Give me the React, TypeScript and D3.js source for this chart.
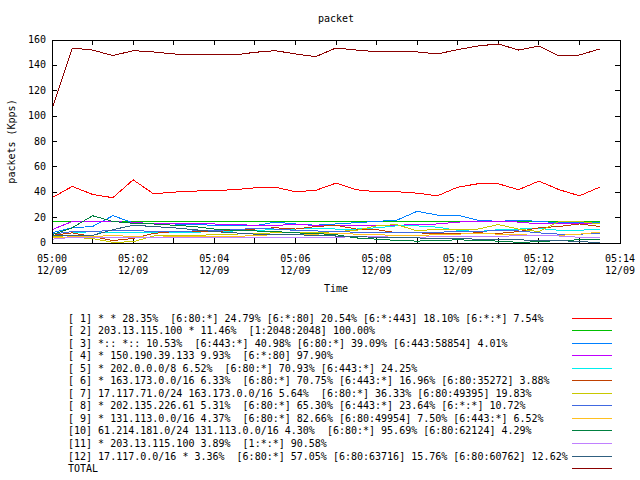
import React from "react";
import * as d3 from "d3";

const times = [
  "05:00:00", "05:00:30", "05:01:00", "05:01:30", "05:02:00", "05:02:30", "05:03:00",
  "05:03:30", "05:04:00", "05:04:30", "05:05:00", "05:05:30", "05:06:00", "05:06:30",
  "05:07:00", "05:07:30", "05:08:00", "05:08:30", "05:09:00", "05:09:30", "05:10:00",
  "05:10:30", "05:11:00", "05:11:30", "05:12:00", "05:12:30", "05:13:00", "05:13:30",
];

const s1 = [35.7, 44.6, 38.3, 35.7, 49.8, 38.8, 40.1, 40.9, 41.4, 42, 43.5, 44, 40.4, 41.5, 47.2, 42, 40.4, 40.4, 39.3, 37.2, 44, 46.7, 46.7, 42, 48.8, 42, 37.2, 44];
const s2 = [17, 17, 17, 17, 17, 17, 17, 17, 17, 17, 17, 17, 17, 17, 17, 17, 17, 17, 17, 17, 17, 17, 17, 17, 17, 17, 17, 17];
const s3 = [8, 12, 13, 21.5, 16, 15, 15, 14.5, 14, 14, 13.5, 16.5, 15, 14, 15, 16, 17, 18, 25, 22, 22, 18, 17, 18, 17, 16, 16, 16];
const s4 = [10.5, 17, 17, 17, 16, 15.5, 15, 15, 15, 14.5, 14, 14, 14.5, 14, 14, 13.5, 13.5, 14, 14.5, 15, 16.5, 17, 17, 16.5, 15, 15, 15, 15];
const s5 = [6, 8, 9, 8, 8.5, 8, 8, 8.5, 9, 9.5, 10, 10.5, 11, 11.5, 11, 11, 12, 13.5, 13.5, 12.5, 10, 9, 10.5, 11, 11.5, 10, 10, 11];
const s6 = [6, 8, 5, 2, 3.5, 7.5, 9, 9, 9, 10, 11, 12, 11, 13, 14, 11, 10.5, 8, 8, 7.5, 7.5, 8, 7.5, 9, 12, 13, 15, 13];
const s7 = [5, 4.5, 3.5, 0.5, 1, 5.5, 6, 6, 6.5, 7, 7.5, 8, 8, 8, 9, 10, 13.5, 14.5, 9.5, 11, 10.5, 11, 14.5, 11, 9, 17, 17, 15];
const s8 = [7, 9, 9, 10, 10, 9, 9, 9.5, 10, 10.5, 11.5, 11, 10, 9.5, 9, 8.5, 8, 8, 8, 8.5, 9, 9, 10, 9.5, 8, 7, 7, 7.5];
const s9 = [4, 5, 5, 6, 5, 4.5, 5, 5.5, 5, 5, 6, 6.5, 6.5, 7, 7.5, 7, 6.5, 6, 6, 6.5, 7, 7.5, 7, 6.5, 6, 6, 7, 8.5];
const s10 = [6.5, 12, 21.5, 17, 15.5, 15, 14, 13, 11, 10, 9.5, 9, 8, 7.5, 6.5, 4, 3, 2, 1.5, 2, 2.5, 2, 1.5, 0.5, 1, 2, 2.5, 3];
const s11 = [3, 4.5, 4.5, 4.5, 4.5, 4.5, 4.5, 4.5, 4.5, 4.5, 4.5, 4.5, 4.5, 4.5, 4.5, 5, 5, 4.5, 4.5, 5, 5, 5, 5, 6, 6, 5.5, 4.5, 4.5];
const s12 = [5.5, 6, 6, 10.5, 14, 13, 12, 10.5, 9, 8, 7, 6.5, 6.5, 6, 5.5, 5, 4.5, 4, 4, 3.5, 3.5, 3, 3, 2.5, 2, 2, 1, 0.5];
const total = [105.7, 153.7, 152.1, 147.7, 151.6, 150.6, 149, 148.2, 148.2, 148.2, 150.3, 151.6, 149, 146.9, 153.7, 152.1, 150.8, 150.6, 150.6, 149, 152.4, 155.3, 156.9, 152.1, 155.3, 147.4, 148.2, 152.9];

const seriesValues = [s1, s2, s3, s4, s5, s6, s7, s8, s9, s10, s11, s12, total];

const legendLabels = [
  "[ 1] * * 28.35%  [6:80:*] 24.79% [6:*:80] 20.54% [6:*:443] 18.10% [6:*:*] 7.54%",
  "[ 2] 203.13.115.100 * 11.46%  [1:2048:2048] 100.00%",
  "[ 3] *:: *:: 10.53%  [6:443:*] 40.98% [6:80:*] 39.09% [6:443:58854] 4.01%",
  "[ 4] * 150.190.39.133 9.93%  [6:*:80] 97.90%",
  "[ 5] * 202.0.0.0/8 6.52%  [6:80:*] 70.93% [6:443:*] 24.25%",
  "[ 6] * 163.173.0.0/16 6.33%  [6:80:*] 70.75% [6:443:*] 16.96% [6:80:35272] 3.88%",
  "[ 7] 17.117.71.0/24 163.173.0.0/16 5.64%  [6:80:*] 36.33% [6:80:49395] 19.83%",
  "[ 8] * 202.135.226.61 5.31%  [6:80:*] 65.30% [6:443:*] 23.64% [6:*:*] 10.72%",
  "[ 9] * 131.113.0.0/16 4.37%  [6:80:*] 82.66% [6:80:49954] 7.50% [6:443:*] 6.52%",
  "[10] 61.214.181.0/24 131.113.0.0/16 4.30%  [6:80:*] 95.69% [6:80:62124] 4.29%",
  "[11] * 203.13.115.100 3.89%  [1:*:*] 90.58%",
  "[12] 17.117.0.0/16 * 3.36%  [6:80:*] 57.05% [6:80:63716] 15.76% [6:80:60762] 12.62%",
  "TOTAL",
];

const colors = [
  "#ff0000", "#00c000", "#0080ff", "#c000ff", "#00eeee", "#c04000",
  "#c8c800", "#4169e1", "#ffc020", "#008040", "#c080ff", "#306080", "#8b0000",
];

const yTicks = [0, 20, 40, 60, 80, 100, 120, 140, 160];
const xDomain = ["05:00:00", "05:14:00"];
const titleText = "packet";
const xLabel = "Time";
const yLabel = "packets (Kpps)";

const FONT = "'DejaVu Sans Mono', 'Liberation Mono', monospace";

const parse = (t: string) => d3.timeParse("%Y-%m-%d %H:%M:%S")("2009-12-09 " + t) as Date;

export default function App() {
  const W = 640, H = 480;
  const L = 52, R = 620, T = 40, B = 243;
  const x = d3.scaleTime().domain(xDomain.map(parse)).range([L, R]);
  const y = d3.scaleLinear().domain([0, 160]).range([B, T]);
  const dates = times.map(parse);
  const line = d3.line<number>().x((_, i) => x(dates[i])).y((v) => y(v));
  const minorTicks = x.ticks(d3.timeMinute.every(1) as any);
  const majorTicks = x.ticks(d3.timeMinute.every(2) as any);
  const fmt1 = d3.timeFormat("%H:%M");
  const fmt2 = d3.timeFormat("%m/%d");
  const tl = 5;
  const legY0 = 317.5, legDY = 12.55;
  const legY = (k: number) => Math.round(legY0 + k * legDY) + 0.5;

  return (
    <svg width={W} height={H} style={{ position: "absolute", left: 0, top: 0, background: "#fff" }}
      fontFamily={FONT} fontSize={10}>
      <rect x={0} y={0} width={W} height={H} fill="#fff" />
      <text x={336} y={19} textAnchor="middle" dominantBaseline="middle">{titleText}</text>
      <g stroke="#000" strokeWidth={1} shapeRendering="crispEdges">
        {yTicks.map((t) => (
          <g key={"y" + t}>
            <line x1={L} x2={L + tl} y1={y(t)} y2={y(t)} />
            <line x1={R} x2={R - tl} y1={y(t)} y2={y(t)} />
          </g>
        ))}
        {minorTicks.map((d, i) => (
          <g key={"x" + i}>
            <line x1={x(d)} x2={x(d)} y1={B} y2={B - tl} />
            <line x1={x(d)} x2={x(d)} y1={T} y2={T + tl} />
          </g>
        ))}
      </g>
      {yTicks.map((t) => (
        <text key={"yl" + t} x={46} y={y(t)} textAnchor="end" dominantBaseline="middle">{t}</text>
      ))}
      {majorTicks.map((d, i) => (
        <g key={"xl" + i}>
          <text x={x(d)} y={259} textAnchor="middle" dominantBaseline="middle">{fmt1(d)}</text>
          <text x={x(d)} y={271} textAnchor="middle" dominantBaseline="middle">{fmt2(d)}</text>
        </g>
      ))}
      <text x={336} y={289} textAnchor="middle" dominantBaseline="middle">{xLabel}</text>
      <text transform={`translate(12,${(T + B) / 2}) rotate(-90)`} textAnchor="middle" dominantBaseline="middle">{yLabel}</text>
      <g fill="none" strokeWidth={1} shapeRendering="crispEdges">
        {seriesValues.map((vals, k) => (
          <path key={"s" + k} d={line(vals) || ""} stroke={colors[k]} />
        ))}
      </g>
      <rect x={L} y={T} width={R - L} height={B - T} fill="none" stroke="#000" shapeRendering="crispEdges" />
      {legendLabels.map((lab, k) => (
        <g key={"lg" + k}>
          <text x={68} y={legY(k)} dominantBaseline="middle" style={{ whiteSpace: "pre" }}>{lab}</text>
          <line x1={572} x2={612} y1={legY(k)} y2={legY(k)} stroke={colors[k]} strokeWidth={1} />
        </g>
      ))}
    </svg>
  );
}
